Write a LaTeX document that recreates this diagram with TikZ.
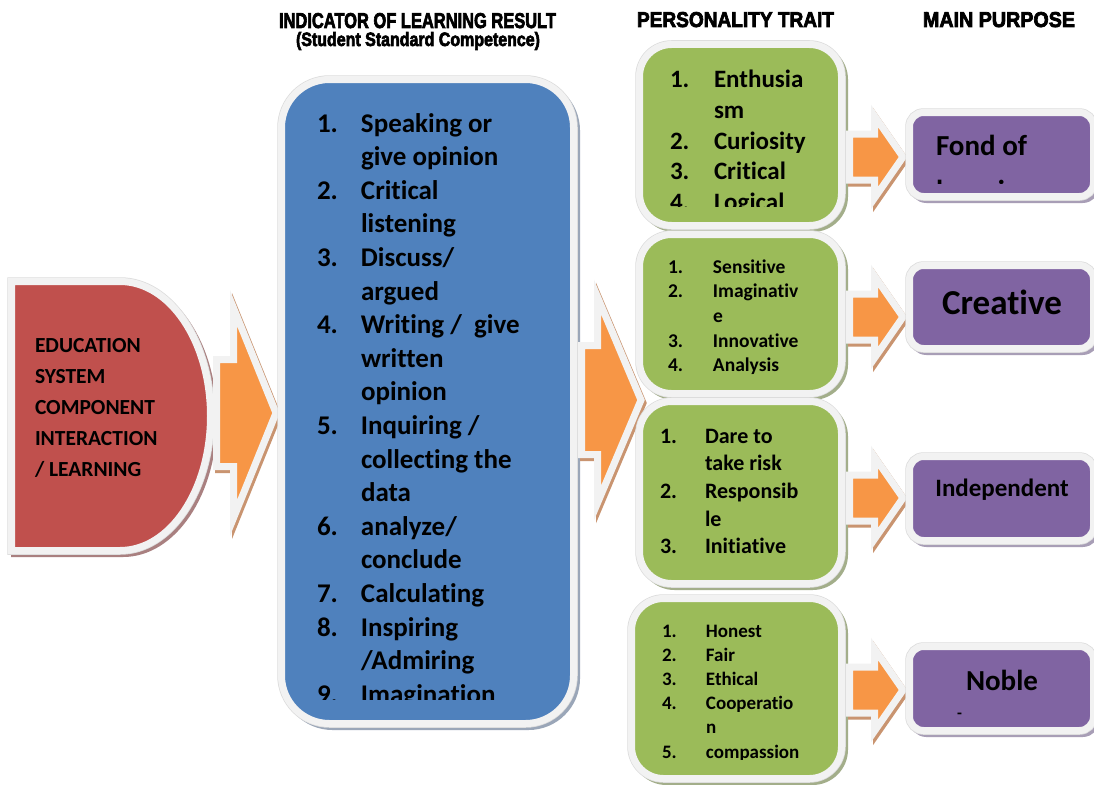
\documentclass[tikz,border=0pt]{standalone}
\usepackage{fontspec}
\usepackage{graphicx}
\usepackage{array}
\setmainfont{Carlito}[Ligatures=NoCommon]
\newfontfamily\hdfont{Liberation Sans}[BoldFeatures={FakeBold=3.5}]
\definecolor{redc}{HTML}{C0504D}
\definecolor{bluec}{HTML}{4F81BD}
\definecolor{greenc}{HTML}{9BBB59}
\definecolor{purpc}{HTML}{8064A2}
\definecolor{orngc}{HTML}{F79646}
\definecolor{bord}{HTML}{F2F2F2}
\definecolor{bordedge}{HTML}{DCDCDC}
\definecolor{redsh}{HTML}{A98080}
\definecolor{bluesh}{HTML}{9AA6B8}
\definecolor{greensh}{HTML}{A3AE8A}
\definecolor{purpsh}{HTML}{A89EB6}
\definecolor{orngsh}{HTML}{C99470}
\newcommand\rbox[7]{%
  \path[fill=#7,draw=#7,line width=7pt,rounded corners=#5] (#1+3,#2+3) rectangle (#3+3,#4+3);
  \path[draw=bordedge,line width=8.5pt,rounded corners=#5] (#1,#2) rectangle (#3,#4);
  \path[fill=#6,draw=bord,line width=7pt,rounded corners=#5] (#1,#2) rectangle (#3,#4);}
\newcommand\barrow[6]{%
  \path[fill=orngsh,draw=orngsh,line width=7pt,shift={(2,3)}] (#1,#4-#5) -- (#2,#4-#5) -- (#2,#4-#6) -- (#3,#4) -- (#2,#4+#6) -- (#2,#4+#5) -- (#1,#4+#5) -- cycle;
  \path[fill=orngc,draw=bord,line width=7pt] (#1,#4-#5) -- (#2,#4-#5) -- (#2,#4-#6) -- (#3,#4) -- (#2,#4+#6) -- (#2,#4+#5) -- (#1,#4+#5) -- cycle;}
\tikzset{
  txt/.style={inner sep=0pt,outer sep=0pt,text=black},
  hd/.style={inner sep=0pt,outer sep=0pt,text=black}
}
\begin{document}
\begin{tikzpicture}[x=1pt,y=-1pt]
\useasboundingbox (0,0) rectangle (1094,784);
\fill[white] (0,0) rectangle (1094,784);

% headers
\node[hd,anchor=base west] (h1) at (279,28) {\resizebox{277pt}{15pt}{\hdfont\bfseries INDICATOR OF LEARNING RESULT}};
\node[hd,anchor=north west] (h2) at (296,32) {\resizebox*{244pt}{18pt}{\hdfont\bfseries (Student Standard Competence)}};
\node[hd,anchor=base west] (h3) at (637,27) {\resizebox{197pt}{15pt}{\hdfont\bfseries PERSONALITY TRAIT}};
\node[hd,anchor=base west] (h4) at (923,27) {\resizebox{152pt}{15pt}{\hdfont\bfseries MAIN PURPOSE}};

% red D shape
\path[fill=redsh,draw=redsh,line width=7pt,shift={(3,3)}] (11.5,281.5) -- (120,281.5) .. controls (170,281.5) and (210.5,341.7) .. (210.5,416) .. controls (210.5,490.3) and (170,550.5) .. (120,550.5) -- (11.5,550.5) -- cycle;
\path[draw=bordedge,line width=8.5pt] (11.5,281.5) -- (120,281.5) .. controls (170,281.5) and (210.5,341.7) .. (210.5,416) .. controls (210.5,490.3) and (170,550.5) .. (120,550.5) -- (11.5,550.5) -- cycle;
\path[fill=redc,draw=bord,line width=7pt] (11.5,281.5) -- (120,281.5) .. controls (170,281.5) and (210.5,341.7) .. (210.5,416) .. controls (210.5,490.3) and (170,550.5) .. (120,550.5) -- (11.5,550.5) -- cycle;
\node[txt,anchor=base west,font={\bfseries\fontsize{21.5}{31.2}\selectfont}] (edu) at (35,352)
 {\begin{tabular}[t]{@{}l@{}}EDUCATION\\SYSTEM\\COMPONENT\\INTERACTION\\/ LEARNING\end{tabular}};

% big arrow 1
\barrow{216.5}{233.5}{276}{413}{53.5}{105}

% blue box
\rbox{281.5}{79.5}{573.5}{723.5}{48pt}{bluec}{bluesh}
\begin{scope}
\clip (280,80) rectangle (575,699);
\node[txt,anchor=base west,font={\bfseries\fontsize{27}{33.6}\selectfont}] (ind) at (317,132)
 {\begin{tabular}[t]{@{}p{44pt}@{}l@{}}
 1. & Speaking or\\ & give opinion\\
 2. & Critical\\ & listening\\
 3. & Discuss/\\ & argued\\
 4. & Writing /~ give\\ & written\\ & opinion\\
 5. & Inquiring /\\ & collecting the\\ & data\\
 6. & analyze/\\ & conclude\\
 7. & Calculating\\
 8. & Inspiring\\ & /Admiring\\
 9. & Imagination
 \end{tabular}};
\end{scope}

% big arrow 2
\barrow{581.5}{597.5}{641}{400}{54.5}{103}

% green boxes
\rbox{639.5}{44.5}{841.5}{225.5}{32pt}{greenc}{greensh}
\rbox{639.5}{234.5}{841.5}{393.5}{32pt}{greenc}{greensh}
\rbox{639.5}{401.5}{841.5}{583.5}{32pt}{greenc}{greensh}
\rbox{631.5}{598.5}{841.5}{778.5}{32pt}{greenc}{greensh}

\begin{scope}
\clip (640,45) rectangle (840,206);
\node[txt,anchor=base west,font={\bfseries\fontsize{25}{30.5}\selectfont}] (g1) at (670,88)
 {\begin{tabular}[t]{@{}p{44pt}@{}l@{}}
 1. & Enthusia\\ & sm\\ 2. & Curiosity\\ 3. & Critical\\ 4. & Logical
 \end{tabular}};
\end{scope}
\node[txt,anchor=base west,font={\bfseries\fontsize{19.5}{24.7}\selectfont}] (g2) at (668,273)
 {\begin{tabular}[t]{@{}p{45pt}@{}l@{}}
 1. & Sensitive\\ 2. & Imaginativ\\ & e\\ 3. & Innovative\\ 4. & Analysis
 \end{tabular}};
\node[txt,anchor=base west,font={\bfseries\fontsize{22}{27.7}\selectfont}] (g3) at (660,443)
 {\begin{tabular}[t]{@{}p{45pt}@{}l@{}}
 1. & Dare to\\ & take risk\\ 2. & Responsib\\ & le\\ 3. & Initiative
 \end{tabular}};
\begin{scope}
\clip (630,600) rectangle (840,759);
\node[txt,anchor=base west,font={\bfseries\fontsize{19}{24.2}\selectfont}] (g4) at (662,637)
 {\begin{tabular}[t]{@{}p{44pt}@{}l@{}}
 1. & Honest\\ 2. & Fair\\ 3. & Ethical\\ 4. & Cooperatio\\ & n\\ 5. & compassion
 \end{tabular}};
\end{scope}

% small arrows
\barrow{849.5}{874.5}{903}{157}{23}{41}
\barrow{849.5}{874.5}{903}{317}{23}{41}
\barrow{849.5}{874.5}{903}{498}{23}{41}
\barrow{849.5}{874.5}{903}{690}{23}{41}

% purple boxes
\rbox{909.5}{112.5}{1093.5}{196.5}{14pt}{purpc}{purpsh}
\rbox{909.5}{265.5}{1093.5}{348.5}{14pt}{purpc}{purpsh}
\rbox{909.5}{456.5}{1093.5}{540.5}{14pt}{purpc}{purpsh}
\rbox{909.5}{646.5}{1093.5}{730.5}{14pt}{purpc}{purpsh}

\begin{scope}
\clip (912,115) rectangle (1092,183);
\node[txt,anchor=base west,font={\bfseries\fontsize{29}{45}\selectfont}] (p1) at (936,155)
 {\begin{tabular}[t]{@{}l@{}}Fond of\\learning\end{tabular}};
\end{scope}
\node[txt,anchor=base,font={\bfseries\fontsize{35}{42}\selectfont}] (p2) at (1002,314) {Creative};
\node[txt,anchor=base,font={\bfseries\fontsize{25}{30}\selectfont}] (p3) at (1002,496) {Independent};
\node[txt,anchor=base,font={\bfseries\fontsize{29}{35}\selectfont}] (p4) at (1002,690) {Noble};
\node[txt,anchor=base west,font={\bfseries\fontsize{16}{19}\selectfont}] (p4b) at (957,718) {-};
\end{tikzpicture}
\end{document}
